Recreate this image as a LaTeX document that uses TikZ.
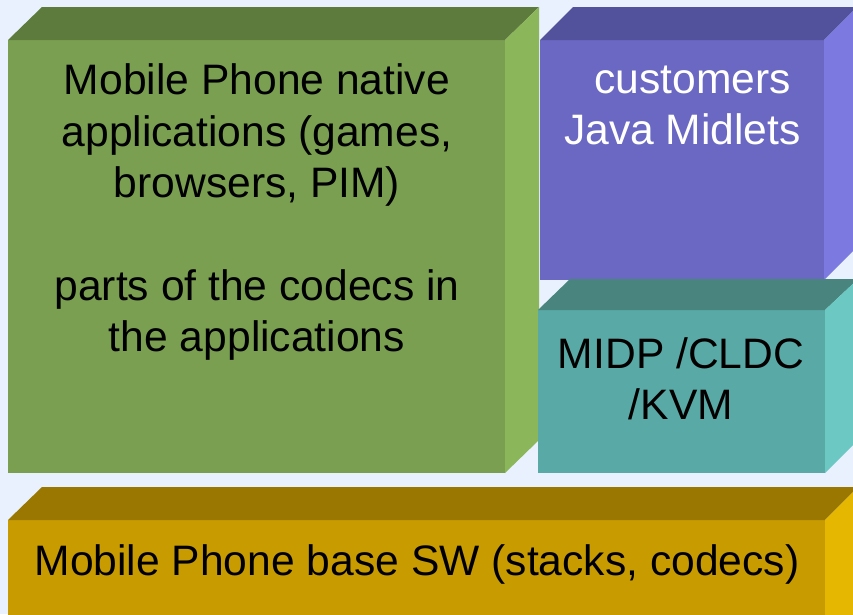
\documentclass[tikz,border=0pt]{standalone}
\usepackage{fontspec}
\setmainfont{Liberation Sans}
\definecolor{bg}{HTML}{E8F1FD}
\definecolor{gfront}{HTML}{7A9F51}
\definecolor{gtop}{HTML}{5E7B3E}
\definecolor{gside}{HTML}{8BB65A}
\definecolor{pfront}{HTML}{6A68C2}
\definecolor{ptop}{HTML}{52519B}
\definecolor{pside}{HTML}{7C7AE0}
\definecolor{tfront}{HTML}{59A9A6}
\definecolor{ttop}{HTML}{49847F}
\definecolor{tside}{HTML}{6BC8C3}
\definecolor{ofront}{HTML}{C89B00}
\definecolor{otop}{HTML}{9A7700}
\definecolor{oside}{HTML}{E5B700}
\tikzset{
  lbl/.style={anchor=base, inner sep=0pt, font=\fontsize{42.6}{51}\selectfont},
}
\begin{document}
\begin{tikzpicture}[x=1pt,y=-1pt]
\useasboundingbox (0,0) rectangle (853,614);
\clip (0,0) rectangle (853,614);
\fill[bg] (0,0) rectangle (853,614);
% green box
\fill[gfront] (8,40) rectangle (505,473);
\fill[gtop] (8,40) -- (42,7) -- (539,7) -- (505,40) -- cycle;
\fill[gside] (505,40) -- (539,7) -- (539,440) -- (505,473) -- cycle;
% purple box
\fill[pfront] (540,40) rectangle (824,280);
\fill[ptop] (540,40) -- (573,7) -- (857,7) -- (824,40) -- cycle;
\fill[pside] (824,40) -- (857,7) -- (857,247) -- (824,280) -- cycle;
% teal box
\fill[tfront] (538,310) rectangle (825,473);
\fill[ttop] (538,310) -- (570,279) -- (858,279) -- (825,310) -- cycle;
\fill[tside] (825,310) -- (858,279) -- (858,440) -- (825,473) -- cycle;
% gold box
\fill[ofront] (8,520) rectangle (825,640);
\fill[otop] (8,520) -- (42,487) -- (858,487) -- (825,520) -- cycle;
\fill[oside] (825,520) -- (858,487) -- (858,640) -- (825,640) -- cycle;
% texts
\node[lbl] (g1) at (257,94) {Mobile Phone native};
\node[lbl] (g2) at (257,146) {applications (games,};
\node[lbl] (g3) at (257,197) {browsers, PIM)};
\node[lbl] (g4) at (257,300) {parts of the codecs in};
\node[lbl] (g5) at (257,351) {the applications};
\node[lbl,text=white] (p1) at (692.5,93) {customers};
\node[lbl,text=white] (p2) at (682.5,144) {Java Midlets};
\node[lbl] (t1) at (681,368) {MIDP /CLDC};
\node[lbl] (t2) at (681,419) {/KVM};
\node[lbl] (o1) at (417,575) {Mobile Phone base SW (stacks, codecs)};
\end{tikzpicture}
\end{document}
